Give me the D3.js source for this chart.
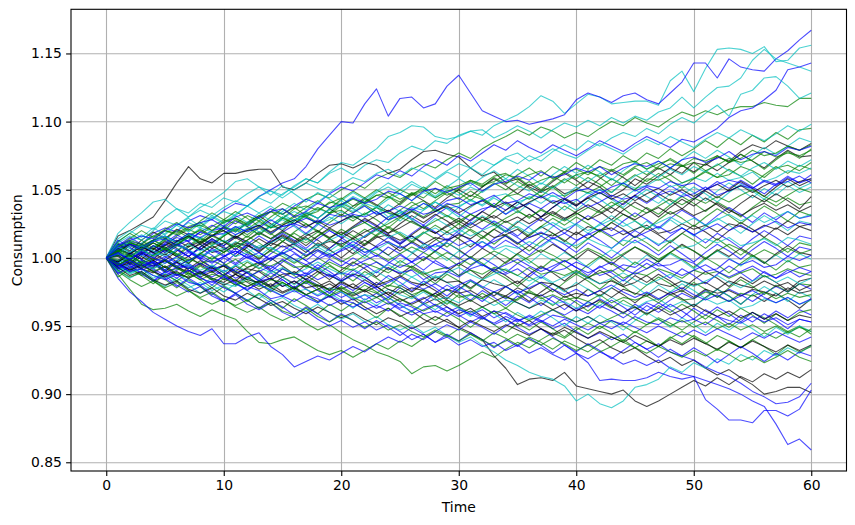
<!DOCTYPE html>
<html>
<head>
<meta charset="utf-8">
<script src="https://cdn.jsdelivr.net/npm/d3@7"></script>
<style>
    body { margin: 0; background: #fff; }
    text { font-family: "DejaVu Sans", sans-serif; }
</style>
</head>
<body>
<div id="chart"></div>
<script>
// tick labels
const xTicks = [0, 10, 20, 30, 40, 50, 60];
const yTicks = [0.85, 0.90, 0.95, 1.00, 1.05, 1.10, 1.15];

// consumption paths, one value per period (t = 0 .. 60)
const cyanPaths = [
    [1.000,1.012,1.018,1.024,1.021,1.030,1.036,1.033,1.040,1.037,1.044,1.041,1.047,1.052,1.049,1.046,1.053,1.058,1.055,1.062,1.066,
     1.061,1.068,1.072,1.070,1.077,1.082,1.079,1.086,1.084,1.090,1.093,1.090,1.097,1.101,1.105,1.111,1.119,1.115,1.106,1.113,
     1.120,1.118,1.113,1.114,1.115,1.115,1.112,1.130,1.137,1.122,1.139,1.153,1.154,1.153,1.150,1.155,1.144,1.145,1.154,1.156],
    [1.000,1.006,1.003,1.011,1.016,1.013,1.020,1.026,1.022,1.029,1.034,1.031,1.038,1.044,1.040,1.047,1.052,1.058,1.055,1.063,1.070,
     1.068,1.074,1.080,1.089,1.092,1.097,1.096,1.089,1.087,1.089,1.093,1.094,1.088,1.092,1.097,1.093,1.088,1.094,1.099,1.096,
     1.101,1.097,1.103,1.099,1.104,1.101,1.107,1.110,1.118,1.110,1.118,1.125,1.126,1.132,1.145,1.153,1.146,1.143,1.140,1.137],
    [1.000,1.010,1.007,1.002,1.009,1.005,1.012,1.018,1.014,1.011,1.017,1.023,1.019,1.026,1.022,1.029,1.034,1.030,1.036,1.033,1.039,
     1.045,1.041,1.048,1.052,1.047,1.054,1.050,1.057,1.063,1.059,1.066,1.061,1.068,1.073,1.069,1.075,1.071,1.078,1.083,1.079,
     1.086,1.082,1.088,1.092,1.089,1.095,1.091,1.098,1.103,1.099,1.106,1.112,1.104,1.120,1.123,1.132,1.133,1.126,1.117,1.121],
    [1.000,0.993,0.988,0.992,0.985,0.989,0.983,0.978,0.982,0.976,0.980,0.974,0.969,0.973,0.967,0.971,0.965,0.961,0.966,0.960,0.955,
     0.959,0.953,0.957,0.951,0.947,0.951,0.945,0.949,0.943,0.938,0.942,0.936,0.931,0.925,0.921,0.916,0.913,0.911,0.906,0.895,
     0.900,0.893,0.890,0.895,0.905,0.907,0.911,0.920,0.916,0.923,0.919,0.926,0.922,0.929,0.925,0.932,0.928,0.934,0.930,0.936],
    [1.000,1.014,1.020,1.015,1.022,1.017,1.024,1.029,1.023,1.030,1.025,
     1.031,1.026,1.033,1.038,1.032,1.027,1.034,1.029,1.036,1.042,
     1.036,1.031,1.038,1.033,1.027,1.034,1.040,1.035,1.030,1.037,
     1.043,1.038,1.044,1.039,1.033,1.040,1.046,1.041,1.035,1.042,
     1.048,1.043,1.037,1.044,1.050,1.045,1.040,1.047,1.053,1.048,
     1.042,1.049,1.055,1.050,1.044,1.051,1.046,1.053,1.048,1.052],
    [1.000,0.994,1.000,0.995,1.002,1.008,1.003,0.997,1.004,0.999,1.006,
     1.012,1.007,1.001,1.008,1.003,0.997,1.004,1.010,1.005,1.011,
     1.006,1.000,1.007,1.002,0.996,1.003,1.009,1.004,0.998,1.005,
     1.000,0.994,1.001,1.007,1.002,0.996,1.003,0.998,1.004,0.999,
     0.993,1.000,1.006,1.001,0.995,1.002,0.997,1.003,0.998,0.992,
     0.999,1.005,1.000,0.994,1.001,0.996,1.002,0.997,1.003,0.999],
    [1.000,0.991,0.985,0.990,0.984,0.979,0.985,0.980,0.974,0.980,0.975,
     0.981,0.976,0.970,0.977,0.972,0.978,0.973,0.967,0.974,0.969,
     0.963,0.970,0.965,0.971,0.966,0.960,0.967,0.962,0.968,0.963,
     0.957,0.964,0.959,0.953,0.960,0.955,0.961,0.956,0.950,0.957,
     0.952,0.958,0.953,0.947,0.954,0.960,0.955,0.949,0.956,0.951,
     0.945,0.952,0.947,0.953,0.948,0.942,0.949,0.944,0.950,0.946],
    [1.000,1.001,1.007,1.002,1.008,1.014,1.009,1.015,1.010,1.004,1.011,
     1.017,1.022,1.017,1.023,1.028,1.023,1.017,1.024,1.030,1.025,
     1.031,1.026,1.020,1.027,1.033,1.028,1.022,1.029,1.024,1.018,
     1.025,1.031,1.026,1.020,1.027,1.022,1.016,1.023,1.029,1.024,
     1.018,1.025,1.031,1.026,1.020,1.027,1.021,1.028,1.022,1.016,
     1.023,1.029,1.024,1.018,1.025,1.031,1.026,1.020,1.027,1.025],
    [1.000,0.990,0.996,1.002,0.997,0.991,0.998,0.993,0.987,0.994,0.989,
     0.995,0.990,0.984,0.991,0.986,0.980,0.987,0.993,0.988,0.982,
     0.989,0.984,0.990,0.985,0.979,0.986,0.981,0.987,0.982,0.976,
     0.983,0.978,0.984,0.979,0.973,0.980,0.986,0.981,0.975,0.982,
     0.977,0.971,0.978,0.984,0.979,0.973,0.980,0.975,0.981,0.976,
     0.970,0.977,0.972,0.966,0.973,0.979,0.974,0.968,0.975,0.971],
    [1.000,1.005,1.011,1.017,1.012,1.018,1.024,1.019,1.025,1.031,1.026,
     1.032,1.038,1.033,1.027,1.034,1.040,1.035,1.041,1.047,1.042,
     1.048,1.043,1.049,1.055,1.050,1.056,1.051,1.045,1.052,1.058,
     1.053,1.059,1.064,1.058,1.065,1.060,1.054,1.061,1.067,1.062,
     1.068,1.063,1.057,1.064,1.070,1.065,1.071,1.066,1.072,1.078,
     1.073,1.079,1.074,1.068,1.075,1.081,1.076,1.082,1.088,1.085],
    [1.000,1.018,1.026,1.033,1.041,1.043,1.036,1.030,1.037,1.042,1.048,
     1.056,1.058,1.052,1.046,1.053,1.047,1.041,1.048,1.043,1.037,
     1.044,1.038,1.032,1.039,1.034,1.028,1.035,1.041,1.036,1.030,
     1.037,1.043,1.038,1.032,1.039,1.045,1.040,1.046,1.041,1.035,
     1.042,1.048,1.043,1.037,1.044,1.050,1.045,1.039,1.046,1.052,
     1.047,1.041,1.048,1.054,1.049,1.043,1.050,1.056,1.051,1.055],
    [1.000,1.009,1.011,1.007,1.013,1.016,1.011,1.015,1.022,1.019,1.017,
     1.022,1.025,1.019,1.023,1.021,1.028,1.030,1.025,1.028,1.034,
     1.030,1.032,1.037,1.030,1.033,1.037,1.035,1.041,1.036,1.038,
     1.042,1.039,1.045,1.047,1.041,1.044,1.049,1.045,1.046,1.052,
     1.047,1.050,1.048,1.055,1.051,1.053,1.058,1.052,1.055,1.059,
     1.056,1.062,1.057,1.059,1.063,1.056,1.059,1.064,1.062,1.066],
    [1.000,0.993,0.989,0.992,0.987,0.985,0.989,0.983,0.980,0.985,0.981,
     0.979,0.985,0.980,0.977,0.981,0.975,0.977,0.973,0.978,0.975,
     0.970,0.973,0.971,0.977,0.973,0.970,0.975,0.969,0.971,0.967,
     0.973,0.970,0.965,0.969,0.967,0.963,0.969,0.966,0.968,0.963,
     0.967,0.965,0.971,0.966,0.963,0.968,0.970,0.964,0.968,0.965,
     0.970,0.966,0.969,0.963,0.965,0.970,0.967,0.971,0.966,0.969],
    [1.000,1.003,1.001,1.006,1.002,1.003,1.009,1.006,1.001,1.005,1.007,
     1.001,1.004,1.009,1.007,1.003,1.009,1.006,1.008,1.003,1.007,
     1.010,1.004,1.006,1.011,1.008,1.004,1.010,1.008,1.011,1.006,
     1.010,1.012,1.006,1.009,1.007,1.012,1.008,1.014,1.011,1.009,
     1.014,1.010,1.007,1.013,1.011,1.015,1.010,1.013,1.007,1.009,
     1.014,1.011,1.015,1.009,1.011,1.014,1.009,1.015,1.013,1.010],
    [1.000,1.011,1.016,1.013,1.020,1.027,1.024,1.030,1.035,1.031,1.037,
     1.042,1.038,1.045,1.049,1.044,1.050,1.055,1.051,1.048,1.054,
     1.059,1.056,1.062,1.065,1.060,1.066,1.063,1.058,1.064,1.069,
     1.066,1.072,1.068,1.074,1.077,1.071,1.075,1.080,1.076,1.073,
     1.079,1.084,1.080,1.076,1.082,1.087,1.083,1.089,1.085,1.081,
     1.087,1.092,1.088,1.094,1.090,1.086,1.091,1.097,1.093,1.098],
    [1.000,0.996,1.001,0.997,0.992,0.996,1.000,0.995,0.991,0.995,0.990,
     0.994,0.998,0.993,0.989,0.993,0.988,0.992,0.997,0.992,0.988,
     0.992,0.987,0.991,0.995,0.990,0.986,0.990,0.985,0.989,0.993,
     0.988,0.984,0.988,0.992,0.987,0.983,0.987,0.982,0.986,0.990,
     0.985,0.981,0.985,0.989,0.984,0.980,0.984,0.988,0.983,0.979,
     0.983,0.987,0.982,0.978,0.983,0.987,0.982,0.986,0.981,0.985],
    [1.000,1.003,1.009,1.006,1.012,1.016,1.011,1.017,1.014,1.020,1.024,
     1.019,1.025,1.029,1.024,1.030,1.027,1.033,1.029,1.035,1.039,
     1.034,1.040,1.037,1.043,1.047,1.042,1.048,1.044,1.050,1.046,
     1.052,1.048,1.054,1.058,1.053,1.049,1.055,1.051,1.057,1.061,
     1.056,1.062,1.058,1.054,1.060,1.064,1.059,1.065,1.061,1.067,
     1.063,1.069,1.064,1.060,1.066,1.070,1.065,1.071,1.067,1.072],
    [1.000,1.008,1.004,1.009,1.005,1.001,1.006,1.010,1.005,1.009,1.013,
     1.008,1.012,1.007,1.011,1.015,1.010,1.014,1.009,1.013,1.017,
     1.012,1.016,1.020,1.015,1.019,1.014,1.018,1.022,1.017,1.021,
     1.016,1.020,1.024,1.019,1.023,1.018,1.022,1.026,1.021,1.025,
     1.020,1.024,1.028,1.023,1.027,1.022,1.026,1.030,1.025,1.029,
     1.024,1.028,1.032,1.027,1.031,1.026,1.030,1.034,1.029,1.032]
];

const greenPaths = [
    [1.000,1.004,1.010,1.007,1.013,1.009,1.016,1.021,1.017,1.023,1.028,1.025,1.031,1.027,1.034,1.040,1.036,1.043,1.047,1.044,1.050,
     1.055,1.051,1.058,1.062,1.059,1.065,1.069,1.066,1.072,1.077,1.073,1.080,1.085,1.089,1.094,1.090,1.096,1.093,1.088,1.092,
     1.089,1.095,1.100,1.097,1.103,1.099,1.096,1.102,1.107,1.104,1.108,1.105,1.109,1.111,1.111,1.114,1.112,1.111,1.117,1.117],
    [1.000,0.990,0.984,0.979,0.983,0.977,0.972,0.976,0.970,0.966,0.970,0.964,0.960,0.964,0.958,0.954,0.958,0.952,0.947,0.951,0.945,
     0.940,0.936,0.931,0.928,0.924,0.915,0.920,0.921,0.917,0.921,0.926,0.931,0.927,0.933,0.938,0.934,0.940,0.945,0.941,0.947,
     0.952,0.948,0.954,0.950,0.945,0.951,0.956,0.952,0.947,0.953,0.958,0.954,0.949,0.955,0.960,0.956,0.951,0.946,0.950,0.944],
    [1.000,0.988,0.977,0.966,0.962,0.963,0.966,0.961,0.957,0.962,0.958,0.955,0.946,0.938,0.937,0.940,0.942,0.937,0.932,0.929,0.932,
     0.927,0.932,0.937,0.933,0.939,0.935,0.941,0.946,0.942,0.948,0.944,0.939,0.945,0.941,0.936,0.942,0.938,0.933,0.939,0.935,
     0.931,0.937,0.942,0.938,0.934,0.939,0.935,0.941,0.946,0.942,0.937,0.943,0.939,0.934,0.940,0.945,0.941,0.946,0.942,0.948],
    [1.000,1.007,1.002,1.010,1.006,1.013,1.009,1.016,1.012,1.019,1.020,
     1.014,1.021,1.027,1.022,1.029,1.025,1.032,1.037,1.033,1.040,
     1.036,1.043,1.038,1.045,1.041,1.048,1.044,1.051,1.046,1.050,
     1.056,1.052,1.059,1.054,1.061,1.066,1.060,1.067,1.063,1.070,
     1.065,1.072,1.068,1.075,1.070,1.077,1.073,1.080,1.075,1.080,
     1.086,1.081,1.088,1.083,1.090,1.085,1.092,1.087,1.094,1.095],
    [1.000,1.003,0.998,1.005,1.011,1.006,1.001,1.008,1.014,1.009,1.016,
     1.021,1.015,1.022,1.017,1.024,1.030,1.025,1.019,1.026,1.032,
     1.027,1.033,1.028,1.022,1.029,1.035,1.030,1.036,1.031,1.025,
     1.032,1.027,1.034,1.040,1.035,1.029,1.036,1.031,1.038,1.033,
     1.028,1.035,1.041,1.036,1.030,1.037,1.032,1.039,1.045,1.040,
     1.034,1.041,1.036,1.030,1.037,1.043,1.038,1.044,1.039,1.041],
    [1.000,1.006,1.012,1.007,1.013,1.008,1.002,1.009,1.015,1.010,1.016,
     1.022,1.017,1.023,1.018,1.012,1.019,1.025,1.020,1.014,1.021,
     1.016,1.010,1.017,1.023,1.018,1.012,1.019,1.014,1.008,1.015,
     1.021,1.016,1.010,1.017,1.011,1.005,1.012,1.018,1.013,1.007,
     1.014,1.020,1.015,1.009,1.016,1.011,1.005,1.012,1.018,1.013,
     1.007,1.014,1.008,1.002,1.009,1.015,1.010,1.004,1.011,1.009],
    [1.000,0.997,0.991,0.997,0.992,0.998,0.993,0.987,0.994,0.989,0.995,
     0.990,0.984,0.991,0.986,0.992,0.987,0.981,0.988,0.994,0.989,
     0.983,0.990,0.985,0.979,0.986,0.992,0.987,0.981,0.988,0.983,
     0.977,0.984,0.990,0.985,0.979,0.986,0.981,0.975,0.982,0.988,
     0.983,0.977,0.984,0.979,0.973,0.980,0.986,0.981,0.975,0.982,
     0.977,0.971,0.978,0.984,0.979,0.973,0.980,0.975,0.981,0.980],
    [1.000,0.995,0.989,0.995,0.990,0.984,0.978,0.984,0.979,0.973,0.979,
     0.974,0.968,0.974,0.969,0.963,0.970,0.965,0.959,0.966,0.961,
     0.967,0.962,0.956,0.963,0.958,0.952,0.959,0.954,0.960,0.955,
     0.949,0.956,0.951,0.945,0.952,0.947,0.953,0.948,0.942,0.949,
     0.944,0.950,0.945,0.939,0.946,0.941,0.935,0.942,0.937,0.943,
     0.938,0.932,0.939,0.934,0.940,0.935,0.929,0.936,0.931,0.935],
    [1.000,1.008,1.014,1.020,1.015,1.021,1.026,1.020,1.027,1.033,1.028,
     1.034,1.029,1.023,1.030,1.036,1.031,1.037,1.042,1.036,1.043,
     1.049,1.044,1.050,1.045,1.039,1.046,1.052,1.047,1.053,1.048,
     1.042,1.049,1.055,1.050,1.056,1.051,1.045,1.052,1.058,1.053,
     1.059,1.054,1.048,1.055,1.061,1.056,1.062,1.057,1.051,1.058,
     1.064,1.059,1.065,1.060,1.054,1.061,1.067,1.062,1.068,1.065],
    [1.000,0.999,0.993,0.987,0.993,0.999,0.994,0.988,0.995,1.001,0.996,
     0.990,0.997,0.992,0.998,1.004,0.999,0.993,1.000,0.995,0.989,
     0.996,1.002,0.997,0.991,0.998,0.993,0.999,1.005,1.000,0.994,
     1.001,0.996,0.990,0.997,1.003,0.998,0.992,0.999,0.994,0.988,
     0.995,1.001,0.996,0.990,0.997,0.992,0.998,1.004,0.999,0.993,
     1.000,0.995,0.989,0.996,1.002,0.997,0.991,0.998,0.993,0.995],
    [1.000,1.012,1.018,1.013,1.007,1.014,1.020,1.015,1.021,1.016,1.022,
     1.028,1.023,1.017,1.024,1.030,1.025,1.031,1.026,1.032,1.038,
     1.033,1.039,1.034,1.028,1.035,1.041,1.036,1.042,1.048,1.043,
     1.049,1.044,1.038,1.045,1.051,1.056,1.050,1.057,1.063,1.058,
     1.064,1.059,1.053,1.060,1.066,1.061,1.067,1.073,1.068,1.062,
     1.069,1.075,1.070,1.076,1.071,1.065,1.072,1.078,1.073,1.080],
    [1.000,0.986,0.992,0.987,0.981,0.988,0.983,0.989,0.984,0.978,0.985,
     0.980,0.986,0.981,0.975,0.982,0.977,0.983,0.978,0.972,0.979,
     0.974,0.980,0.975,0.969,0.976,0.971,0.977,0.972,0.966,0.973,
     0.968,0.974,0.969,0.963,0.970,0.976,0.971,0.965,0.972,0.967,
     0.961,0.968,0.963,0.969,0.964,0.958,0.965,0.960,0.966,0.961,
     0.955,0.962,0.957,0.963,0.958,0.952,0.959,0.954,0.960,0.962],
    [1.000,0.994,1.000,1.006,1.001,1.007,1.002,0.996,1.003,1.009,1.004,
     1.010,1.016,1.011,1.005,1.012,1.018,1.013,1.019,1.014,1.008,
     1.015,1.021,1.016,1.022,1.017,1.011,1.018,1.024,1.019,1.025,
     1.020,1.014,1.021,1.027,1.022,1.016,1.023,1.029,1.024,1.030,
     1.025,1.019,1.026,1.032,1.027,1.021,1.028,1.034,1.029,1.023,
     1.030,1.036,1.031,1.025,1.032,1.038,1.033,1.027,1.034,1.031],
    [1.000,1.004,1.011,1.008,1.013,1.015,1.009,1.017,1.020,1.016,1.022,
     1.020,1.025,1.029,1.022,1.025,1.031,1.030,1.025,1.033,1.035,
     1.029,1.032,1.037,1.033,1.031,1.038,1.042,1.034,1.039,1.040,
     1.046,1.043,1.038,1.045,1.047,1.043,1.049,1.052,1.045,1.050,
     1.048,1.052,1.058,1.053,1.050,1.058,1.057,1.061,1.055,1.058,
     1.063,1.059,1.061,1.067,1.064,1.059,1.066,1.068,1.064,1.070],
    [1.000,1.002,0.997,0.993,0.996,0.990,0.992,0.989,0.984,0.988,0.986,
     0.980,0.983,0.979,0.984,0.982,0.977,0.983,0.980,0.976,0.978,
     0.973,0.977,0.974,0.980,0.978,0.973,0.976,0.972,0.977,0.971,
     0.973,0.970,0.975,0.971,0.969,0.975,0.970,0.973,0.969,0.971,
     0.968,0.973,0.967,0.971,0.969,0.972,0.967,0.973,0.969,0.970,
     0.975,0.972,0.968,0.974,0.972,0.975,0.970,0.974,0.971,0.973],
    [1.000,1.008,1.013,1.010,1.016,1.020,1.018,1.023,1.026,1.020,1.027,
     1.029,1.025,1.031,1.034,1.029,1.036,1.038,1.035,1.040,1.044,
     1.038,1.041,1.046,1.044,1.050,1.046,1.049,1.056,1.051,1.053,
     1.057,1.054,1.060,1.062,1.057,1.061,1.064,1.058,1.063,1.065,
     1.061,1.067,1.064,1.069,1.071,1.065,1.069,1.072,1.067,1.073,
     1.071,1.075,1.070,1.073,1.079,1.075,1.077,1.082,1.079,1.083],
    [1.000,0.998,1.002,0.996,0.999,0.998,0.993,0.999,0.996,0.998,0.994,
     0.999,0.993,0.996,0.994,0.998,0.993,0.994,0.991,0.997,0.993,
     0.991,0.996,0.993,0.989,0.995,0.993,0.988,0.991,0.993,0.987,
     0.991,0.988,0.993,0.991,0.987,0.993,0.988,0.990,0.987,0.991,
     0.986,0.989,0.991,0.985,0.989,0.987,0.992,0.989,0.985,0.991,
     0.988,0.990,0.985,0.989,0.992,0.986,0.988,0.992,0.989,0.987],
    [1.000,1.005,1.011,1.009,1.013,1.020,1.017,1.022,1.024,1.020,1.026,
     1.029,1.024,1.030,1.034,1.032,1.037,1.031,1.034,1.041,1.039,
     1.043,1.040,1.046,1.048,1.043,1.047,1.050,1.044,1.049,1.051,
     1.057,1.053,1.056,1.061,1.059,1.053,1.057,1.060,1.055,1.061,
     1.063,1.060,1.065,1.061,1.067,1.070,1.065,1.069,1.067,1.070,
     1.064,1.068,1.073,1.070,1.072,1.078,1.074,1.077,1.075,1.079],
    [1.000,0.991,0.986,0.989,0.983,0.978,0.982,0.976,0.971,0.975,0.969,
     0.965,0.969,0.963,0.967,0.961,0.958,0.963,0.957,0.953,0.958,
     0.954,0.949,0.953,0.947,0.951,0.946,0.942,0.947,0.943,0.939,
     0.944,0.940,0.935,0.939,0.944,0.940,0.936,0.941,0.937,0.932,
     0.936,0.931,0.935,0.940,0.934,0.930,0.935,0.931,0.927,0.932,
     0.928,0.933,0.929,0.924,0.928,0.923,0.927,0.932,0.927,0.924],
    [1.000,1.005,1.001,1.007,1.011,1.006,1.010,1.015,1.011,1.016,1.012,
     1.008,1.013,1.018,1.014,1.019,1.015,1.011,1.016,1.021,1.017,
     1.022,1.026,1.021,1.025,1.030,1.026,1.022,1.027,1.031,1.027,
     1.032,1.028,1.024,1.029,1.034,1.030,1.035,1.031,1.027,1.032,
     1.037,1.033,1.038,1.042,1.037,1.033,1.038,1.043,1.039,1.044,
     1.040,1.045,1.041,1.046,1.050,1.045,1.041,1.046,1.051,1.048],
    [1.000,1.006,1.002,0.997,1.002,1.007,1.003,0.998,1.003,0.999,1.004,
     1.009,1.004,1.000,1.005,1.001,0.996,1.001,1.006,1.002,0.997,
     1.002,1.007,1.003,0.998,1.003,1.008,1.004,0.999,1.004,1.000,
     0.995,1.000,1.005,1.001,0.996,1.001,1.006,1.002,0.997,1.002,
     1.007,1.003,0.998,1.003,1.008,1.004,0.999,1.004,1.009,1.005,
     1.000,1.005,1.010,1.006,1.001,1.006,1.002,1.007,1.003,1.006],
    [1.000,0.995,0.999,0.994,0.990,0.994,0.989,0.985,0.989,0.984,0.988,
     0.983,0.979,0.983,0.978,0.982,0.977,0.973,0.977,0.972,0.976,
     0.971,0.967,0.971,0.966,0.970,0.965,0.961,0.965,0.969,0.964,
     0.960,0.964,0.959,0.963,0.958,0.954,0.958,0.962,0.957,0.953,
     0.957,0.952,0.956,0.960,0.955,0.951,0.955,0.950,0.954,0.949,
     0.953,0.948,0.952,0.947,0.951,0.946,0.950,0.945,0.949,0.946]
];

const bluePaths = [
    [1.000,1.008,1.012,1.010,1.018,1.022,1.019,1.027,1.031,1.028,1.035,1.040,1.038,1.045,1.050,1.055,1.058,1.067,1.080,1.090,1.100,
     1.099,1.113,1.124,1.104,1.117,1.118,1.110,1.113,1.126,1.134,1.121,1.108,1.104,1.100,1.101,1.098,1.100,1.102,1.105,1.116,
     1.121,1.118,1.114,1.119,1.121,1.116,1.113,1.121,1.129,1.143,1.143,1.132,1.146,1.140,1.138,1.137,1.146,1.152,1.160,1.167],
    [1.000,0.994,1.001,1.006,1.002,1.010,1.015,1.012,1.019,1.024,1.020,1.027,1.023,1.030,1.036,1.032,1.038,1.043,1.040,1.047,1.052,
     1.049,1.055,1.061,1.058,1.064,1.060,1.067,1.072,1.068,1.075,1.071,1.077,1.083,1.079,1.086,1.081,1.077,1.083,1.079,1.075,
     1.080,1.086,1.082,1.078,1.084,1.089,1.085,1.081,1.087,1.085,1.090,1.095,1.103,1.108,1.110,1.116,1.123,1.138,1.140,1.143],
    [1.000,0.991,0.995,0.988,0.983,0.987,0.980,0.975,0.979,0.972,0.968,0.973,0.966,0.962,0.967,0.960,0.956,0.961,0.955,0.950,0.954,
     0.949,0.953,0.947,0.951,0.946,0.940,0.944,0.938,0.942,0.936,0.940,0.935,0.938,0.932,0.936,0.930,0.934,0.929,0.925,0.930,
     0.926,0.931,0.927,0.922,0.925,0.921,0.925,0.919,0.915,0.913,0.910,0.907,0.904,0.900,0.895,0.891,0.878,0.863,0.867,0.859],
    [1.000,0.997,1.003,0.999,0.994,0.998,0.992,0.996,0.990,0.986,0.991,0.985,0.989,0.983,0.979,0.984,0.978,0.982,0.976,0.971,0.975,
     0.969,0.973,0.967,0.971,0.965,0.961,0.966,0.960,0.964,0.958,0.953,0.957,0.951,0.955,0.949,0.944,0.948,0.942,0.936,0.930,
     0.923,0.910,0.911,0.910,0.910,0.912,0.916,0.913,0.911,0.913,0.896,0.889,0.881,0.881,0.879,0.888,0.888,0.884,0.889,0.903],
    [1.000,0.989,0.993,0.998,0.992,0.987,0.991,0.995,0.989,0.993,0.987,0.982,0.986,0.981,0.985,0.979,0.983,0.977,0.972,0.976,0.971,
     0.975,0.969,0.974,0.968,0.963,0.967,0.971,0.965,0.960,0.964,0.958,0.962,0.956,0.960,0.955,0.950,0.954,0.948,0.952,0.946,
     0.941,0.945,0.940,0.944,0.938,0.933,0.937,0.931,0.928,0.925,0.920,0.916,0.913,0.908,0.902,0.898,0.893,0.894,0.898,0.908],
    [1.000,0.985,0.975,0.968,0.960,0.955,0.950,0.946,0.943,0.948,0.937,0.937,0.942,0.945,0.935,0.929,0.920,0.924,0.928,0.925,0.930,
     0.935,0.931,0.937,0.942,0.938,0.944,0.940,0.946,0.951,0.947,0.953,0.949,0.944,0.950,0.955,0.951,0.957,0.962,0.958,0.963,
     0.959,0.965,0.961,0.956,0.962,0.967,0.963,0.969,0.974,0.970,0.976,0.971,0.977,0.973,0.968,0.974,0.979,0.975,0.981,0.977],
    [1.000,0.996,1.004,1.009,1.003,1.010,1.006,1.001,1.008,1.014,1.009,
     1.016,1.011,1.006,1.013,1.019,1.024,1.018,1.025,1.020,1.015,
     1.022,1.028,1.023,1.030,1.035,1.029,1.024,1.031,1.037,1.032,
     1.027,1.034,1.040,1.035,1.041,1.036,1.030,1.037,1.043,1.038,
     1.045,1.050,1.044,1.039,1.046,1.052,1.047,1.053,1.048,1.043,
     1.050,1.056,1.051,1.057,1.052,1.047,1.054,1.060,1.055,1.061],
    [1.000,1.009,1.015,1.010,1.004,1.011,1.017,1.012,1.006,1.013,1.008,
     1.003,1.010,1.016,1.011,1.018,1.013,1.007,1.014,1.020,1.015,
     1.009,1.016,1.022,1.017,1.011,1.018,1.024,1.019,1.013,1.020,
     1.026,1.021,1.027,1.022,1.016,1.023,1.029,1.024,1.018,1.025,
     1.031,1.026,1.020,1.027,1.033,1.028,1.022,1.029,1.035,1.030,
     1.024,1.031,1.037,1.032,1.026,1.033,1.028,1.034,1.029,1.031],
    [1.000,1.002,0.996,1.003,0.997,0.991,0.998,1.004,0.999,0.993,1.000,
     0.995,1.001,0.996,0.990,0.997,1.003,0.998,0.992,0.999,0.994,
     1.000,0.995,0.989,0.996,1.002,0.997,0.991,0.998,0.993,0.987,
     0.994,1.000,0.995,0.989,0.996,0.991,0.985,0.992,0.998,0.993,
     0.987,0.994,0.989,0.983,0.990,0.996,0.991,0.985,0.992,0.987,
     0.981,0.988,0.994,0.989,0.983,0.990,0.985,0.991,0.986,0.990],
    [1.000,0.988,0.994,0.989,0.983,0.990,0.985,0.991,0.986,0.980,0.987,
     0.982,0.976,0.983,0.989,0.984,0.978,0.985,0.980,0.974,0.981,
     0.976,0.982,0.977,0.971,0.978,0.973,0.967,0.974,0.980,0.975,
     0.969,0.976,0.971,0.965,0.972,0.967,0.973,0.968,0.962,0.969,
     0.964,0.970,0.965,0.959,0.966,0.961,0.967,0.962,0.956,0.963,
     0.958,0.964,0.959,0.953,0.960,0.955,0.961,0.956,0.962,0.958],
    [1.000,0.998,1.004,0.999,0.993,1.000,1.006,1.001,1.007,1.002,0.996,
     1.003,1.009,1.004,0.998,1.005,1.011,1.006,1.000,1.007,1.013,
     1.008,1.002,1.009,1.015,1.010,1.016,1.011,1.005,1.012,1.018,
     1.013,1.007,1.014,1.020,1.015,1.009,1.016,1.011,1.005,1.012,
     1.018,1.013,1.007,1.014,1.020,1.015,1.009,1.016,1.022,1.017,
     1.011,1.018,1.013,1.007,1.014,1.020,1.015,1.009,1.016,1.014],
    [1.000,1.013,1.008,1.002,1.009,1.004,1.010,1.005,0.999,1.006,1.001,
     1.007,1.002,0.996,1.003,1.009,1.004,0.998,1.005,1.000,1.006,
     1.012,1.007,1.001,1.008,1.003,0.997,1.004,1.010,1.005,0.999,
     1.006,1.012,1.007,1.013,1.008,1.002,1.009,1.015,1.010,1.004,
     1.011,1.006,1.000,1.007,1.013,1.008,1.002,1.009,1.003,0.997,
     1.004,1.010,1.005,0.999,1.006,1.012,1.007,1.001,1.008,1.006],
    [1.000,0.993,0.999,1.005,1.000,1.006,1.011,1.006,1.000,1.007,1.002,
     0.996,1.003,0.998,0.992,0.999,0.994,0.988,0.995,0.990,0.984,
     0.991,0.986,0.980,0.987,0.982,0.976,0.983,0.978,0.972,0.979,
     0.974,0.968,0.975,0.970,0.976,0.971,0.965,0.972,0.967,0.961,
     0.968,0.963,0.969,0.964,0.958,0.965,0.960,0.966,0.961,0.955,
     0.962,0.957,0.951,0.958,0.953,0.959,0.954,0.948,0.955,0.953],
    [1.000,0.995,0.990,0.996,0.991,0.985,0.979,0.985,0.980,0.974,0.968,
     0.974,0.969,0.963,0.969,0.964,0.958,0.964,0.959,0.953,0.959,
     0.954,0.948,0.954,0.949,0.943,0.949,0.944,0.938,0.944,0.939,
     0.945,0.940,0.934,0.940,0.935,0.941,0.936,0.930,0.936,0.931,
     0.937,0.932,0.926,0.932,0.938,0.933,0.927,0.933,0.928,0.934,
     0.929,0.923,0.929,0.935,0.930,0.924,0.930,0.925,0.931,0.928],
    [1.000,0.995,0.992,0.998,0.996,0.989,0.993,0.994,0.988,0.991,0.987,
     0.992,0.989,0.983,0.985,0.992,0.988,0.987,0.992,0.986,0.989,
     0.987,0.993,0.997,0.992,0.989,0.991,0.984,0.989,0.990,0.986,
     0.992,0.995,0.990,0.988,0.992,0.986,0.993,0.990,0.992,0.997,
     0.993,0.987,0.990,0.995,0.993,0.999,0.994,0.995,0.999,0.996,
     0.990,0.992,0.999,0.995,0.998,0.993,0.995,1.001,0.998,1.002],
    [1.000,1.006,1.010,1.008,1.013,1.016,1.012,1.018,1.015,1.020,1.022,
     1.017,1.021,1.024,1.018,1.023,1.025,1.022,1.028,1.024,1.027,
     1.032,1.030,1.034,1.028,1.031,1.036,1.032,1.034,1.040,1.037,
     1.032,1.036,1.038,1.032,1.037,1.040,1.036,1.042,1.040,1.043,
     1.037,1.041,1.046,1.043,1.045,1.040,1.046,1.049,1.045,1.047,
     1.052,1.046,1.049,1.053,1.051,1.056,1.053,1.059,1.055,1.058],
    [1.000,0.996,0.990,0.992,0.987,0.984,0.988,0.982,0.980,0.983,0.978,
     0.974,0.979,0.976,0.970,0.972,0.968,0.973,0.970,0.965,0.969,
     0.967,0.962,0.965,0.961,0.967,0.964,0.959,0.961,0.957,0.962,
     0.959,0.955,0.961,0.959,0.954,0.957,0.953,0.958,0.956,0.953,
     0.957,0.952,0.954,0.951,0.957,0.953,0.951,0.956,0.953,0.955,
     0.951,0.957,0.954,0.952,0.957,0.953,0.956,0.951,0.955,0.953],
    [1.000,1.007,1.010,1.006,1.012,1.014,1.009,1.013,1.019,1.016,1.018,
     1.023,1.019,1.022,1.028,1.023,1.025,1.029,1.026,1.032,1.030,
     1.033,1.038,1.032,1.034,1.038,1.035,1.040,1.036,1.042,1.044,
     1.039,1.042,1.046,1.040,1.042,1.047,1.044,1.048,1.043,1.049,
     1.051,1.047,1.052,1.055,1.049,1.053,1.051,1.056,1.053,1.055,
     1.050,1.054,1.057,1.055,1.051,1.057,1.054,1.056,1.060,1.055],
    [1.000,1.009,1.013,1.016,1.014,1.020,1.025,1.022,1.026,1.028,1.023,
     1.030,1.033,1.029,1.034,1.036,1.030,1.034,1.040,1.037,1.039,
     1.044,1.040,1.043,1.049,1.047,1.042,1.049,1.051,1.048,1.052,
     1.055,1.049,1.054,1.056,1.060,1.057,1.063,1.059,1.061,1.066,
     1.063,1.067,1.061,1.066,1.069,1.067,1.071,1.066,1.072,1.074,
     1.070,1.073,1.078,1.072,1.076,1.078,1.075,1.081,1.079,1.082],
    [1.000,1.004,0.998,0.994,0.997,0.991,0.987,0.991,0.985,0.982,0.986,
     0.981,0.977,0.981,0.976,0.972,0.976,0.971,0.967,0.972,0.968,
     0.964,0.968,0.963,0.967,0.962,0.958,0.962,0.966,0.961,0.957,
     0.961,0.956,0.952,0.957,0.953,0.958,0.954,0.950,0.955,0.951,
     0.947,0.952,0.948,0.953,0.949,0.945,0.950,0.946,0.942,0.947,
     0.943,0.948,0.944,0.940,0.945,0.941,0.946,0.942,0.938,0.942],
    [1.000,0.994,0.998,0.993,0.997,1.001,0.996,0.992,0.996,0.991,0.995,
     0.990,0.986,0.990,0.994,0.989,0.985,0.989,0.984,0.988,0.983,
     0.987,0.982,0.978,0.982,0.986,0.981,0.977,0.981,0.976,0.980,
     0.984,0.979,0.975,0.979,0.974,0.978,0.982,0.977,0.973,0.977,
     0.972,0.976,0.980,0.975,0.971,0.975,0.970,0.974,0.978,0.973,
     0.969,0.973,0.968,0.972,0.976,0.971,0.967,0.971,0.966,0.970],
    [1.000,0.992,0.996,0.991,0.995,0.999,0.994,0.998,1.002,0.997,1.001,
     1.005,1.000,1.004,0.999,1.003,1.007,1.002,1.006,1.001,1.005,
     1.009,1.004,1.008,1.012,1.007,1.011,1.006,1.010,1.014,1.009,
     1.013,1.008,1.012,1.016,1.011,1.015,1.019,1.014,1.018,1.013,
     1.017,1.021,1.016,1.020,1.015,1.019,1.023,1.018,1.022,1.017,
     1.021,1.025,1.020,1.024,1.019,1.023,1.027,1.022,1.026,1.024],
    [1.000,1.003,0.999,1.004,1.000,0.996,1.001,1.005,1.000,0.996,1.001,
     1.005,1.000,0.996,1.000,1.004,0.999,0.995,0.999,1.003,0.998,
     0.994,0.998,1.002,0.997,0.993,0.997,1.001,0.996,0.992,0.996,
     1.000,0.995,0.991,0.995,0.999,0.994,0.990,0.994,0.998,0.993,
     0.989,0.993,0.997,0.992,0.988,0.992,0.996,0.991,0.987,0.991,
     0.995,0.990,0.986,0.990,0.994,0.989,0.985,0.989,0.993,0.990]
];

const blackPaths = [
    [1.000,1.016,1.020,1.025,1.030,1.042,1.055,1.067,1.058,1.055,1.062,1.062,1.064,1.065,1.065,1.052,1.050,1.055,1.062,1.068,1.069,
     1.066,1.070,1.068,1.062,1.065,1.072,1.078,1.079,1.076,1.074,1.066,1.060,1.063,1.055,1.058,1.052,1.048,1.053,1.047,1.050,
     1.056,1.052,1.045,1.050,1.058,1.054,1.060,1.066,1.062,1.070,1.068,1.074,1.071,1.078,1.083,1.080,1.086,1.082,1.079,1.084],
    [1.000,0.995,0.999,1.004,0.998,0.993,0.997,0.991,0.986,0.990,0.984,0.988,0.982,0.977,0.981,0.975,0.979,0.973,0.968,0.972,0.966,
     0.970,0.964,0.959,0.963,0.957,0.961,0.955,0.951,0.955,0.949,0.945,0.940,0.928,0.919,0.907,0.911,0.912,0.910,0.916,0.906,
     0.904,0.902,0.900,0.903,0.895,0.891,0.895,0.900,0.905,0.910,0.906,0.912,0.907,0.913,0.909,0.915,0.911,0.916,0.912,0.918],
    [1.000,1.005,0.999,0.994,0.998,1.003,0.997,1.001,0.995,0.990,0.994,0.988,0.993,0.997,0.991,0.986,0.990,0.984,0.979,0.983,0.977,
     0.981,0.975,0.979,0.973,0.968,0.972,0.966,0.970,0.964,0.959,0.963,0.957,0.961,0.955,0.950,0.954,0.948,0.943,0.947,0.941,
     0.936,0.940,0.934,0.930,0.934,0.928,0.923,0.927,0.921,0.925,0.919,0.914,0.918,0.912,0.907,0.900,0.902,0.905,0.905,0.901],
    [1.000,1.011,1.005,1.013,1.019,1.014,1.021,1.017,1.010,1.016,1.023,
     1.019,1.026,1.031,1.025,1.020,1.027,1.033,1.029,1.036,1.031,
     1.038,1.044,1.039,1.034,1.040,1.047,1.042,1.037,1.044,1.050,
     1.045,1.052,1.058,1.053,1.047,1.054,1.049,1.056,1.062,1.057,
     1.051,1.058,1.064,1.059,1.053,1.060,1.066,1.061,1.068,1.063,
     1.069,1.064,1.070,1.076,1.071,1.066,1.073,1.079,1.074,1.075],
    [1.000,0.992,0.998,1.004,0.999,1.006,1.001,0.996,1.003,1.009,1.004,
     1.010,1.005,0.999,1.006,1.012,1.007,1.001,1.008,1.014,1.009,
     1.003,1.010,1.016,1.011,1.005,1.012,1.007,1.013,1.019,1.014,
     1.008,1.015,1.021,1.016,1.010,1.017,1.023,1.018,1.012,1.019,
     1.014,1.020,1.026,1.021,1.015,1.022,1.017,1.011,1.018,1.024,
     1.019,1.013,1.020,1.026,1.021,1.015,1.022,1.017,1.023,1.020],
    [1.000,1.004,0.998,0.992,0.998,0.993,0.987,0.993,0.988,0.994,0.989,
     0.983,0.990,0.985,0.979,0.986,0.981,0.987,0.982,0.976,0.983,
     0.978,0.984,0.979,0.973,0.980,0.975,0.981,0.976,0.970,0.977,
     0.983,0.978,0.972,0.979,0.974,0.968,0.975,0.981,0.976,0.970,
     0.977,0.972,0.978,0.973,0.967,0.974,0.969,0.975,0.970,0.964,
     0.971,0.977,0.972,0.966,0.973,0.968,0.974,0.969,0.963,0.970],
    [1.000,1.010,1.004,0.999,1.006,1.012,1.007,1.001,1.008,1.014,1.009,
     1.015,1.010,1.004,1.011,1.017,1.012,1.018,1.013,1.007,1.014,
     1.020,1.015,1.021,1.016,1.010,1.017,1.023,1.018,1.024,1.029,
     1.024,1.030,1.025,1.019,1.026,1.032,1.027,1.033,1.028,1.034,
     1.039,1.034,1.028,1.035,1.041,1.036,1.030,1.037,1.043,1.038,
     1.044,1.039,1.033,1.040,1.046,1.041,1.047,1.042,1.036,1.045],
    [1.000,1.001,0.995,1.001,0.996,0.990,0.997,0.992,0.998,0.993,0.987,
     0.994,0.989,0.995,1.000,0.994,0.988,0.995,0.990,0.984,0.991,
     0.997,0.992,0.986,0.993,0.988,0.994,0.989,0.983,0.990,0.996,
     0.991,0.985,0.992,0.987,0.981,0.988,0.994,0.989,0.983,0.990,
     0.985,0.991,0.986,0.980,0.987,0.982,0.988,0.983,0.977,0.984,
     0.990,0.985,0.979,0.986,0.981,0.987,0.982,0.976,0.983,0.985],
    [1.000,0.997,1.003,1.009,1.004,0.998,1.005,1.011,1.006,1.012,1.007,
     1.001,1.008,1.014,1.009,1.015,1.010,1.004,1.011,1.006,1.000,
     1.007,1.013,1.008,1.002,1.009,1.004,0.998,1.005,1.011,1.006,
     1.000,1.007,1.002,0.996,1.003,1.009,1.004,1.010,1.005,0.999,
     1.006,1.001,0.995,1.002,1.008,1.003,0.997,1.004,1.010,1.005,
     0.999,1.006,1.001,1.007,1.002,0.996,1.003,1.009,1.004,1.002],
    [1.000,1.002,0.996,1.003,1.009,1.004,1.010,1.005,1.011,1.017,1.012,
     1.006,1.013,1.019,1.014,1.020,1.015,1.009,1.016,1.022,1.017,
     1.023,1.029,1.024,1.018,1.025,1.031,1.026,1.032,1.027,1.021,
     1.028,1.034,1.029,1.035,1.041,1.036,1.030,1.037,1.043,1.038,
     1.044,1.039,1.033,1.040,1.046,1.041,1.047,1.042,1.036,1.043,
     1.049,1.044,1.050,1.056,1.051,1.045,1.052,1.058,1.053,1.057],
    [1.000,0.997,1.002,0.996,0.994,0.998,0.993,0.990,0.996,0.992,0.994,
     0.989,0.992,0.990,0.984,0.988,0.989,0.984,0.990,0.987,0.983,
     0.988,0.986,0.980,0.983,0.987,0.982,0.980,0.986,0.982,0.983,
     0.978,0.984,0.981,0.979,0.983,0.977,0.982,0.981,0.977,0.980,
     0.986,0.981,0.983,0.979,0.982,0.987,0.981,0.979,0.983,0.980,
     0.982,0.977,0.983,0.980,0.978,0.983,0.979,0.982,0.976,0.980],
    [1.000,1.003,1.009,1.005,1.007,1.002,1.009,1.006,1.010,1.004,1.006,
     1.011,1.009,1.005,1.011,1.008,1.010,1.015,1.009,1.012,1.010,
     1.014,1.009,1.015,1.017,1.013,1.016,1.010,1.015,1.013,1.017,
     1.014,1.020,1.015,1.017,1.021,1.015,1.018,1.016,1.021,1.017,
     1.023,1.020,1.022,1.017,1.021,1.024,1.018,1.020,1.025,1.021,
     1.024,1.019,1.025,1.023,1.019,1.024,1.021,1.027,1.023,1.025],
    [1.000,0.994,0.996,0.992,0.989,0.994,0.988,0.986,0.990,0.985,0.982,
     0.988,0.984,0.982,0.985,0.979,0.983,0.978,0.980,0.977,0.982,
     0.978,0.976,0.982,0.977,0.974,0.978,0.976,0.971,0.977,0.974,
     0.976,0.971,0.975,0.972,0.978,0.974,0.972,0.977,0.971,0.974,
     0.972,0.976,0.971,0.977,0.974,0.972,0.977,0.973,0.976,0.971,
     0.977,0.974,0.976,0.972,0.977,0.975,0.972,0.978,0.974,0.976],
    [1.000,0.993,0.987,0.990,0.984,0.980,0.983,0.977,0.974,0.978,0.972,
     0.969,0.974,0.970,0.965,0.968,0.963,0.959,0.964,0.960,0.956,
     0.960,0.955,0.951,0.956,0.953,0.948,0.952,0.957,0.953,0.949,
     0.954,0.950,0.946,0.951,0.947,0.943,0.948,0.944,0.949,0.945,
     0.941,0.946,0.942,0.938,0.943,0.939,0.935,0.940,0.936,0.941,
     0.937,0.933,0.938,0.934,0.939,0.935,0.931,0.936,0.932,0.936],
    [1.000,1.007,1.003,1.008,1.004,1.009,1.013,1.008,1.012,1.007,1.011,
     1.016,1.012,1.007,1.012,1.016,1.011,1.016,1.020,1.015,1.019,
     1.014,1.019,1.023,1.018,1.022,1.027,1.022,1.018,1.023,1.027,
     1.022,1.027,1.031,1.026,1.030,1.025,1.030,1.034,1.029,1.033,
     1.028,1.032,1.037,1.032,1.028,1.033,1.037,1.032,1.036,1.031,
     1.035,1.040,1.035,1.031,1.036,1.040,1.035,1.039,1.034,1.038],
    [1.000,0.996,0.991,0.995,0.990,0.986,0.990,0.985,0.989,0.984,0.980,
     0.984,0.979,0.983,0.978,0.974,0.978,0.973,0.977,0.981,0.976,
     0.972,0.976,0.971,0.975,0.970,0.966,0.970,0.974,0.969,0.965,
     0.969,0.964,0.968,0.972,0.967,0.963,0.967,0.962,0.966,0.961,
     0.965,0.969,0.964,0.960,0.964,0.959,0.963,0.958,0.962,0.966,
     0.961,0.957,0.961,0.956,0.960,0.955,0.959,0.954,0.958,0.956],
    [1.000,1.005,1.010,1.006,1.011,1.007,1.012,1.016,1.011,1.016,1.020,
     1.015,1.020,1.024,1.019,1.024,1.028,1.023,1.027,1.022,1.027,
     1.031,1.026,1.031,1.035,1.030,1.034,1.029,1.034,1.038,1.033,
     1.038,1.042,1.037,1.041,1.036,1.041,1.045,1.040,1.044,1.039,
     1.044,1.048,1.043,1.047,1.042,1.047,1.051,1.046,1.050,1.045,
     1.050,1.054,1.049,1.053,1.048,1.053,1.057,1.052,1.056,1.058]
];

const lineColours = {
    cyan: "#00bfbf",
    green: "#008000",
    blue: "#0000ff",
    black: "#000000"
};

function buildSeries() {
    // interleave the groups so no single colour sits on top of the rest
    const groups = [
        { colour: lineColours.green, paths: greenPaths },
        { colour: lineColours.cyan, paths: cyanPaths },
        { colour: lineColours.black, paths: blackPaths },
        { colour: lineColours.blue, paths: bluePaths }
    ];
    const longest = d3.max(groups, g => g.paths.length);
    const series = [];
    for (let i = 0; i < longest; i++) {
        groups.forEach(g => {
            if (i < g.paths.length) series.push({ colour: g.colour, values: g.paths[i] });
        });
    }
    return series;
}

function renderChart() {
    const series = buildSeries();

    const W = 855, H = 525;
    const margin = { top: 9.3, right: 8.5, bottom: 54, left: 71 };
    const width = W - margin.left - margin.right;
    const height = H - margin.top - margin.bottom;

    const svg = d3.select("#chart").append("svg")
        .attr("width", W)
        .attr("height", H);

    const g = svg.append("g")
        .attr("transform", `translate(${margin.left},${margin.top})`);

    // matplotlib style 5% margins around the data
    const [tMin, tMax] = d3.extent(xTicks);
    const tPad = (tMax - tMin) * 0.05;
    const yMin = d3.min(series, s => d3.min(s.values));
    const yMax = d3.max(series, s => d3.max(s.values));
    const yPad = (yMax - yMin) * 0.05;

    const x = d3.scaleLinear()
        .domain([tMin - tPad, tMax + tPad])
        .range([0, width]);

    const y = d3.scaleLinear()
        .domain([yMin - yPad, yMax + yPad])
        .range([height, 0]);

    // grid
    g.append("g").selectAll("line")
        .data(xTicks)
        .join("line")
        .attr("x1", d => Math.round(x(d)) + 0.5)
        .attr("x2", d => Math.round(x(d)) + 0.5)
        .attr("y1", 0)
        .attr("y2", height)
        .attr("stroke", "#b0b0b0")
        .attr("stroke-width", 1.1);

    g.append("g").selectAll("line")
        .data(yTicks)
        .join("line")
        .attr("x1", 0)
        .attr("x2", width)
        .attr("y1", d => Math.round(y(d)) + 0.5)
        .attr("y2", d => Math.round(y(d)) + 0.5)
        .attr("stroke", "#b0b0b0")
        .attr("stroke-width", 1.1);

    // the paths
    const line = d3.line()
        .x((d, i) => x(i))
        .y(d => y(d));

    g.append("g").selectAll("path")
        .data(series)
        .join("path")
        .attr("fill", "none")
        .attr("stroke", d => d.colour)
        .attr("stroke-opacity", 0.7)
        .attr("stroke-width", 1.1)
        .attr("stroke-linejoin", "round")
        .attr("d", d => line(d.values));

    // axes
    const xAxis = g.append("g")
        .attr("transform", `translate(0,${height})`)
        .call(d3.axisBottom(x).tickValues(xTicks).tickSize(4.9).tickPadding(4.2).tickSizeOuter(0));

    const yAxis = g.append("g")
        .call(d3.axisLeft(y).tickValues(yTicks).tickFormat(d3.format(".2f")).tickSize(4.9).tickPadding(4.2).tickSizeOuter(0));

    [xAxis, yAxis].forEach(ax => {
        ax.select(".domain").remove();
        ax.selectAll("line").attr("stroke", "#000").attr("stroke-width", 1.1);
        ax.selectAll("text")
            .attr("fill", "#000")
            .style("font-family", "'DejaVu Sans', sans-serif")
            .style("font-size", "13.9px");
    });

    // frame
    g.append("rect")
        .attr("x", 0)
        .attr("y", 0)
        .attr("width", width)
        .attr("height", height)
        .attr("fill", "none")
        .attr("stroke", "#000")
        .attr("stroke-width", 1.1);

    // axis labels
    svg.append("text")
        .attr("x", margin.left + width / 2)
        .attr("y", 512)
        .attr("text-anchor", "middle")
        .style("font-size", "13.9px")
        .text("Time");

    svg.append("text")
        .attr("transform", `translate(22,${margin.top + height / 2}) rotate(-90)`)
        .attr("text-anchor", "middle")
        .style("font-size", "13.9px")
        .text("Consumption");
}

renderChart();
</script>
</body>
</html>
